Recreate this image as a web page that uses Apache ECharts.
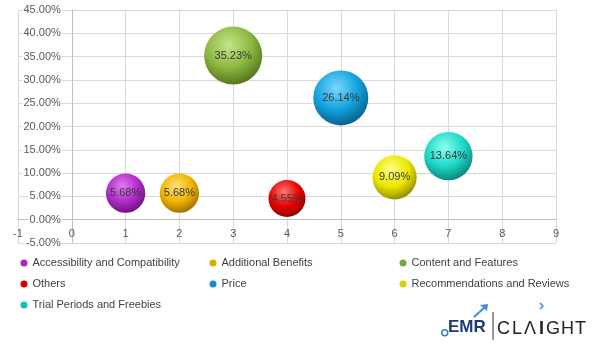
<!DOCTYPE html>
<html>
<head>
<meta charset="utf-8">
<script src="https://cdn.jsdelivr.net/npm/echarts@6/dist/echarts.min.js"></script>
<style>html,body{margin:0;padding:0;background:#fff;}#chart{width:606px;height:349px;}</style>
</head>
<body>
<div id="chart"></div>
<script>
var categories = ['Accessibility and Compatibility','Additional Benefits','Content and Features','Others','Price','Recommendations and Reviews','Trial Periods and Freebies'];
var xValues = [1, 2, 3, 4, 5, 6, 7];
var yValues = [5.68, 5.68, 35.23, 4.55, 26.14, 9.09, 13.64];
var xTicks = {min: -1, max: 9, interval: 1};
var yTicks = {min: -5, max: 45, interval: 5};

var palette = [
  ['#e07cf0','#b02cc8','#6a0f7c'],
  ['#ffe27a','#f0b400','#9a6a00'],
  ['#c4e48a','#8cb83e','#4e6e1c'],
  ['#ff7a7a','#e80000','#8a0000'],
  ['#7ad8ff','#12a2dc','#075a86'],
  ['#ffff8a','#ece600','#8c8600'],
  ['#8afff0','#1ed8c8','#0a7e74']
];
var legendColors = ['#a628c0','#e0a800','#78a838','#d80000','#1090c8','#d8d000','#18c0b4'];

function sizeOf(v){ return 37 + 10.3 * Math.log(v / 4.55); }

var FONT = 'Liberation Sans';
var W = 606, H = 349;
var G = {left: 18, right: 50, top: 10, bottom: 106};
var gw = W - G.left - G.right, gh = H - G.top - G.bottom;
// shift axes so they sit on the zero lines (like Excel's crossing axes)
var yAxisOffset = -gw * (0 - xTicks.min) / (xTicks.max - xTicks.min);
var xAxisOffset = -gh * (0 - yTicks.min) / (yTicks.max - yTicks.min);

var series = categories.map(function(name, i){
  var p = palette[i];
  return {
    name: name,
    type: 'scatter',
    data: [[xValues[i], yValues[i]]],
    symbolSize: function(val){ return sizeOf(val[1]); },
    itemStyle: {
      color: {type:'radial', x:0.42, y:0.32, r:0.72, colorStops:[
        {offset:0, color:p[0]},{offset:0.55, color:p[1]},{offset:1, color:p[2]}]},
      opacity: 1
    },
    label: {
      show: true, position: 'inside', color: '#3a3a3a', fontSize: 11, fontFamily: FONT,
      formatter: function(prm){ return prm.value[1].toFixed(2) + '%'; }
    },
    emphasis: {disabled: true}
  };
});

function legendCol(names, left){
  return {
    orient: 'vertical', left: left, top: 256, itemGap: 7, padding: 0,
    icon: 'circle', itemWidth: 7, itemHeight: 7, itemStyle: {opacity: 1},
    textStyle: {color: '#404040', fontSize: 11, fontFamily: FONT, lineHeight: 14},
    data: names.map(function(n){ return {name: n, itemStyle: {color: legendColors[categories.indexOf(n)]}}; }),
    selectedMode: false
  };
}

var chart = echarts.init(document.getElementById('chart'));
chart.setOption({
  animation: false,
  grid: {left: G.left, right: G.right, top: G.top, bottom: G.bottom, containLabel: false, outerBoundsMode: 'none'},
  xAxis: {
    type: 'value', min: xTicks.min, max: xTicks.max, interval: xTicks.interval,
    offset: xAxisOffset,
    axisLine: {show: true, onZero: false, lineStyle: {color: '#bfbfbf'}},
    axisTick: {show: false},
    axisLabel: {color: '#595959', fontSize: 11, fontFamily: FONT, margin: 9},
    splitLine: {show: true, lineStyle: {color: '#d9d9d9'}}
  },
  yAxis: {
    type: 'value', min: yTicks.min, max: yTicks.max, interval: yTicks.interval,
    offset: yAxisOffset,
    axisLine: {show: true, onZero: false, lineStyle: {color: '#bfbfbf'}},
    axisTick: {show: false},
    axisLabel: {color: '#595959', fontSize: 11, fontFamily: FONT, margin: 10,
      backgroundColor: '#fff', padding: [0,1],
      formatter: function(v){ return v.toFixed(2) + '%'; }},
    splitLine: {show: true, lineStyle: {color: '#d9d9d9'}}
  },
  legend: [
    legendCol([categories[0], categories[3], categories[6]], 20.5),
    legendCol([categories[1], categories[4]], 209.5),
    legendCol([categories[2], categories[5]], 399.5)
  ],
  series: series,
  graphic: [
    {type: 'circle', left: 441, top: 329, shape: {r: 3}, style: {fill: '#fff', stroke: '#2f80c8', lineWidth: 1.5}},
    {type: 'text', left: 448, top: 319, style: {text: 'EMR', fill: '#1d3b72', font: 'bold 17px "Liberation Sans Narrow", "Liberation Sans"'}},
    {type: 'polyline', shape: {points: [[474,317],[485,307]]}, style: {stroke: '#3f8fd8', lineWidth: 2}},
    {type: 'polygon', shape: {points: [[480,305],[488,304],[487,311]]}, style: {fill: '#3f8fd8'}},
    {type: 'line', shape: {x1: 493, y1: 312, x2: 493, y2: 340}, style: {stroke: '#333', lineWidth: 1}},
    {type: 'text', left: 497, top: 320, style: {text: 'C', fill: '#222', font: '18px "Liberation Sans"'}},
    {type: 'text', left: 512, top: 320, style: {text: 'L', fill: '#222', font: '18px "Liberation Sans"'}},
    {type: 'text', left: 524, top: 320, style: {text: '\u039B', fill: '#222', font: '18px "Liberation Sans"'}},
    {type: 'text', left: 539, top: 320, style: {text: 'I', fill: '#222', font: 'bold 18px "Liberation Sans"'}},
    {type: 'text', left: 546, top: 320, style: {text: 'G', fill: '#222', font: '18px "Liberation Sans"'}},
    {type: 'text', left: 561, top: 320, style: {text: 'H', fill: '#222', font: '18px "Liberation Sans"'}},
    {type: 'text', left: 575, top: 320, style: {text: 'T', fill: '#222', font: '18px "Liberation Sans"'}},
    {type: 'polyline', shape: {points: [[540,303],[543,306],[540,309]]}, style: {stroke: '#3f8fd8', lineWidth: 1.5, fill: null}}
  ]
});
</script>
</body>
</html>
